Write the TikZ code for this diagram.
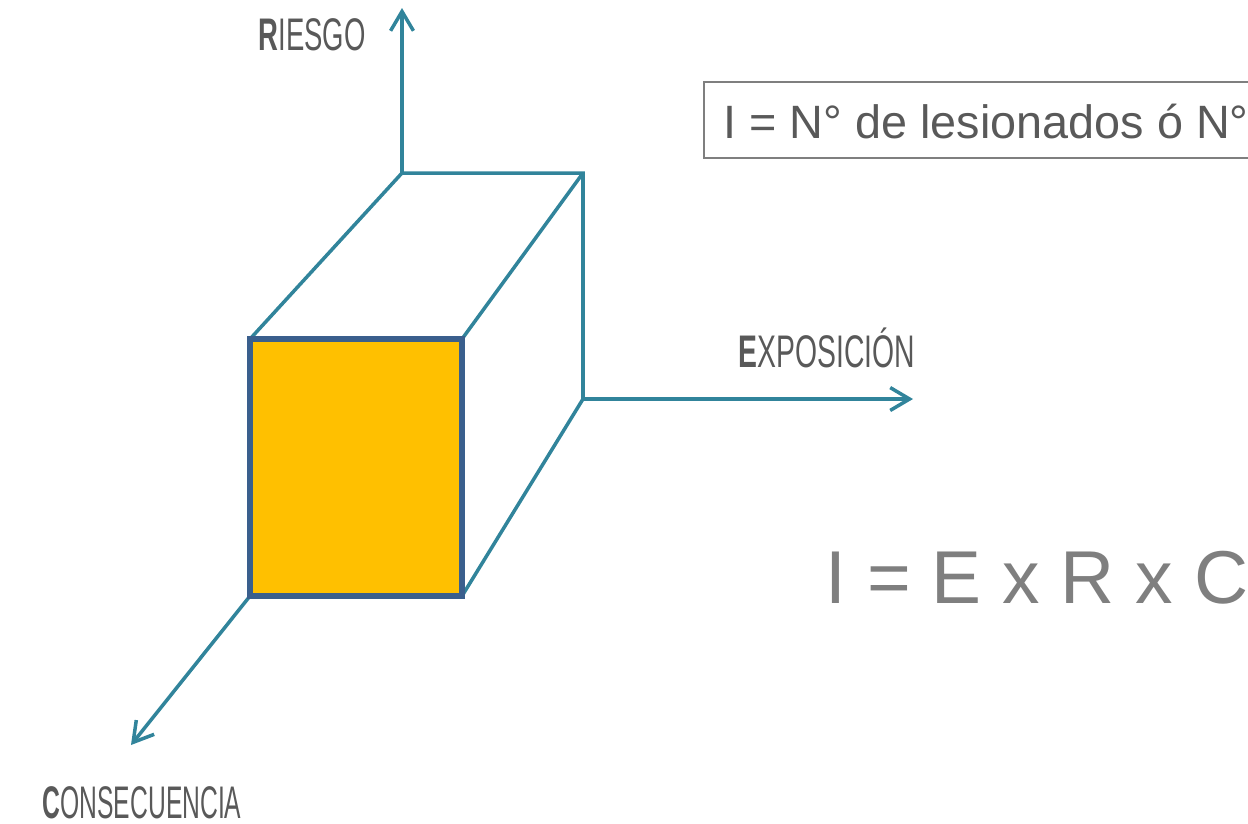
\documentclass[tikz,border=0pt]{standalone}
\usepackage{graphicx}
\usepackage{fontspec}
\setmainfont{Liberation Sans}
\newfontfamily\axisfont[FakeStretch=0.62]{Liberation Sans}
\usetikzlibrary{arrows.meta}
\definecolor{axisteal}{HTML}{31849B}
\definecolor{faceblue}{HTML}{3A5F8D}
\definecolor{faceyellow}{HTML}{FFC000}
\definecolor{labelgray}{HTML}{595959}
\definecolor{formulagray}{HTML}{7F7F7F}

\begin{document}
\begin{tikzpicture}[
	x=0.01cm, y=-0.01cm,
	edge/.style={ axisteal, line width=1pt },
	axis/.style={ edge, -{Straight Barb[length=5.5pt,width=6.5pt]} },
	face/.style={ draw=faceblue, fill=faceyellow, line width=1.6pt },
	axislabel/.style={ labelgray, font=\axisfont\fontsize{13}{15}\selectfont, inner sep=0pt, anchor=base west }
]
\useasboundingbox (0,0) rectangle (1248,823);
\clip (0,0) rectangle (1248,823);

\coordinate (f1) at (250,339);
\coordinate (f2) at (462,339);
\coordinate (f3) at (462,596);
\coordinate (f4) at (250,596);
\coordinate (b1) at (402,173);
\coordinate (b2) at (583,173);
\coordinate (b3) at (583,399);
\coordinate (rtip) at (402,8);
\coordinate (etip) at (913,399);
\coordinate (ctip) at (131,745);

\draw[edge] (f1) to (b1) to (b2) to (b3);
\draw[edge] (f2) to (b2);
\draw[edge] (f3) to (b3);
\draw[axis] (b1) to (rtip);
\draw[axis] (b3) to (etip);
\draw[axis] (f4) to (ctip);
\draw[face] (f1) rectangle (f3);

\node[axislabel] at (258,50) (riesgo) {\scalebox{0.97}[1]{{\bfseries R}IESGO}};
\node[axislabel] at (738,367) (expo) {{\bfseries E}XPOSICIÓN};
\node[axislabel] at (42,818) (conse) {\scalebox{0.87}[1]{{\bfseries C}ONSECUENCIA}};

\draw[formulagray, line width=0.6pt] (704,82) rectangle (1300,158);
\node[labelgray, font=\fontsize{13.3}{16}\selectfont, inner sep=0pt, anchor=base west] at (723,138) (defi) {I = N° de lesionados ó N°};
\node[formulagray, font=\fontsize{21.3}{24}\selectfont, inner sep=0pt, anchor=base west] at (825,603) (formula) {I = E x R x C};

\end{tikzpicture}
\end{document}
